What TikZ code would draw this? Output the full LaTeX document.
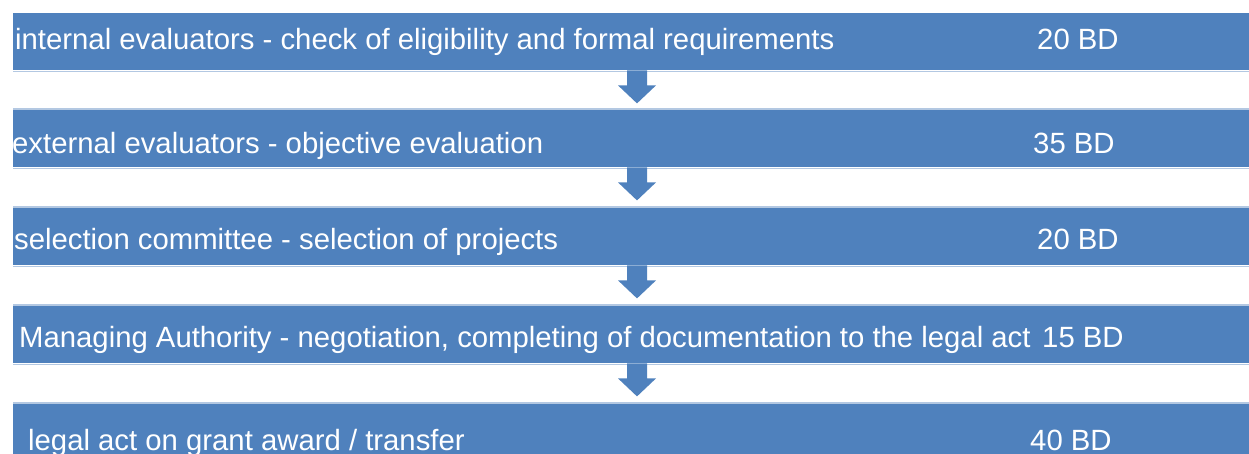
\documentclass[tikz,border=0pt]{standalone}
\usepackage{fontspec}
\setmainfont{Liberation Sans}
\usetikzlibrary{calc}
\definecolor{barblue}{HTML}{4F81BD}
\definecolor{edgeblue}{HTML}{B3C8E2}
\tikzset{
  bar/.style={fill=barblue, draw=none, rectangle, inner sep=0pt,
              minimum width=1250pt, minimum height=57pt, anchor=north west},
  label/.style={text=white, inner sep=0pt, anchor=base west,
                font=\fontsize{29.3}{31}\selectfont},
  arrowfill/.style={fill=barblue, draw=none},
  rim/.style={draw=edgeblue, line width=1.5pt}
}
\begin{document}
\begin{tikzpicture}[x=1pt,y=-1pt]
  \useasboundingbox (0,0) rectangle (1249,454);

  % the five stage bars
  \node[bar] (b1) at (13,13) {};
  \node[bar] (b2) at (13,110) {};
  \node[bar] (b3) at (13,208) {};
  \node[bar] (b4) at (13,306) {};
  \node[bar, minimum height=60pt] (b5) at (13,404) {};

  % pale rims along the bar edges
  \foreach \b in {b1,b2,b3,b4} {
    \draw[rim] ($(\b.south west)+(0,1)$) -- ($(\b.south east)+(0,1)$);
  }
  \foreach \b in {b2,b3,b4,b5} {
    \draw[rim] ($(\b.north west)+(0,-1)$) -- ($(\b.north east)+(0,-1)$);
  }

  % down arrows linking consecutive bars
  \foreach \b in {b1,b2,b3,b4} {
    \fill[arrowfill] ($(\b.south west)+(614,0)$) -- ++(20,0) -- ++(0,15)
      -- ++(9,0) -- ++(-19,18) -- ++(-19,-18) -- ++(9,0) -- cycle;
  }

  % stage descriptions
  \node[label] (t1) at (15,50) {internal evaluators - check of eligibility and formal requirements};
  \node[label] (t2) at (12,154) {external evaluators - objective evaluation};
  \node[label] (t3) at (14,250) {selection committee - selection of projects};
  \node[label] (t4) at (19,347) {Managing Authority - negotiation, completing of documentation to the legal act};
  \node[label] (t5) at (28,450) {legal act on grant award / transfer};

  % durations
  \node[label] (d1) at (1037,50) {20 BD};
  \node[label] (d2) at (1033,154) {35 BD};
  \node[label] (d3) at (1037,250) {20 BD};
  \node[label] (d4) at (1042,347) {15 BD};
  \node[label] (d5) at (1030,450) {40 BD};
\end{tikzpicture}
\end{document}
